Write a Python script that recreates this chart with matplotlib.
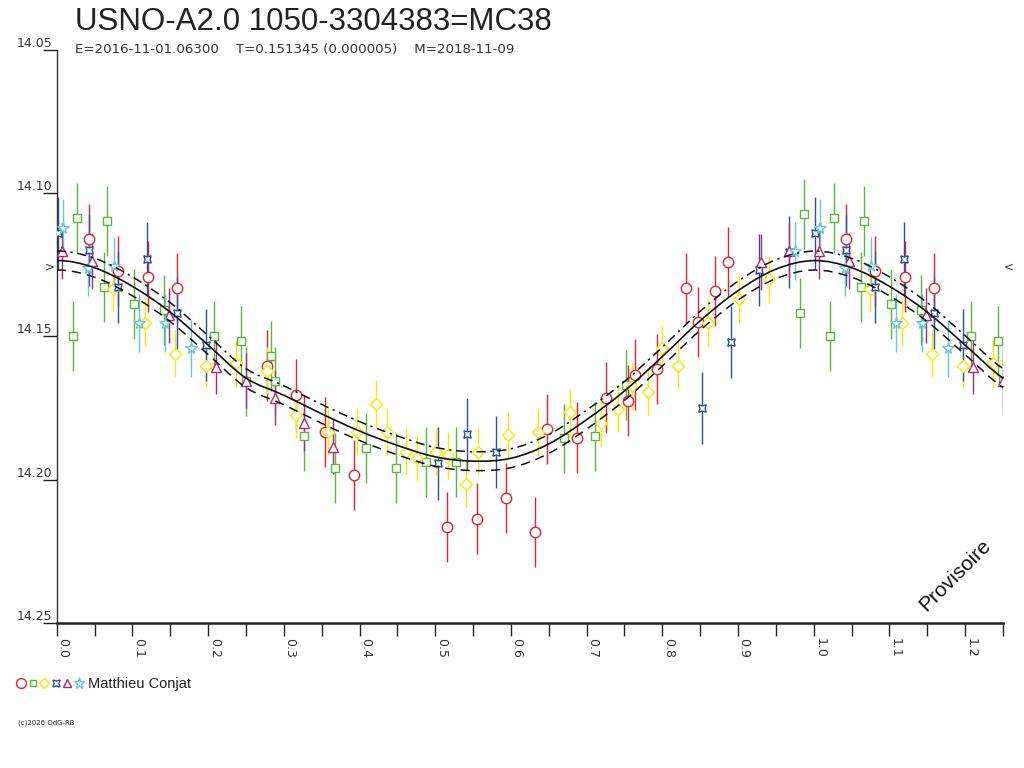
import numpy as np
import matplotlib
matplotlib.use("Agg")
import matplotlib.pyplot as plt
from matplotlib.path import Path
from matplotlib.patches import PathPatch
from matplotlib.transforms import ScaledTranslation

# phase / magnitude readings, one group per observer series
red_phase = [0.043, 0.0814, 0.120, 0.1585, 0.2774, 0.3157, 0.3544, 0.3927, 0.516, 0.5548,
             0.5935, 0.6319, 0.648, 0.687, 0.7256, 0.7543, 0.764, 0.7926, 0.8313, 0.8476,
             0.8696, 0.8864]
red_mag = [14.1160, 14.1271, 14.1291, 14.1330, 14.1602, 14.1703, 14.1833, 14.1984, 14.2165, 14.2136,
           14.2063, 14.2183, 14.1823, 14.1853, 14.1713, 14.1724, 14.1633, 14.1613, 14.1331, 14.1450,
           14.1341, 14.1240]
red_err = 0.0123

green_phase = [0.022, 0.0264, 0.0625, 0.066, 0.102, 0.1417, 0.208, 0.2435, 0.2497, 0.283,
               0.2884, 0.327, 0.3676, 0.4082, 0.4478, 0.4875, 0.5275, 0.6705, 0.711, 0.7517,
               0.9823, 0.9876]
green_mag = [14.1498, 14.1085, 14.1327, 14.1096, 14.1388, 14.1406, 14.1497, 14.1516, 14.1657, 14.1567,
             14.1657, 14.1849, 14.1958, 14.1888, 14.1958, 14.1938, 14.1938, 14.1856, 14.1849, 14.1668,
             14.1417, 14.1074]
green_err = 0.0122

yellow_phase = [0.0748, 0.1166, 0.1567, 0.197, 0.237, 0.2774, 0.3157, 0.358, 0.3963, 0.4214,
                0.4368, 0.461, 0.4764, 0.5007, 0.5165, 0.5407, 0.557, 0.5966, 0.6362, 0.678,
                0.7186, 0.741, 0.7596, 0.7807, 0.800, 0.821, 0.8608, 0.9013, 0.9413]
yellow_mag = [14.1333, 14.1452, 14.1560, 14.1602, 14.1594, 14.1620, 14.1774, 14.1833, 14.1833, 14.1734,
              14.1833, 14.1903, 14.1923, 14.1903, 14.1914, 14.2014, 14.1903, 14.1845, 14.1835, 14.1765,
              14.1802, 14.1753, 14.1674, 14.1693, 14.1541, 14.1602, 14.1452, 14.1370, 14.1300]
yellow_err = 0.0082

blue_phase = [0.002, 0.043, 0.0814, 0.1197, 0.1585, 0.197, 0.5033, 0.5416, 0.5803, 0.852,
              0.8904, 0.9282, 0.9678]
blue_mag = [14.1138, 14.1199, 14.1327, 14.1228, 14.1418, 14.1529, 14.1943, 14.1841, 14.1903, 14.1750,
            14.1520, 14.1269, 14.1205]
blue_err = 0.0126

purple_phase = [0.0075, 0.047, 0.1483, 0.211, 0.2497, 0.2884, 0.327, 0.3654, 0.9304, 0.9678]
purple_mag = [14.1201, 14.1237, 14.1426, 14.1605, 14.1654, 14.1713, 14.1802, 14.1884, 14.1240, 14.1200]
purple_err = 0.0097

cyan_phase = [0.0079, 0.0413, 0.076, 0.109, 0.1426, 0.1778, 0.9753]
cyan_mag = [14.1121, 14.1260, 14.1254, 14.1453, 14.1453, 14.1541, 14.1202]
cyan_err = 0.0100

# fitted light curve, phase step 0.05
model_phase = [0.00, 0.05, 0.10, 0.15, 0.20, 0.25, 0.30, 0.35, 0.40, 0.45, 0.50,
               0.55, 0.60, 0.65, 0.70, 0.75, 0.80, 0.85, 0.90, 0.95, 1.00]
model_mag = [14.1235, 14.1260, 14.1325, 14.1415, 14.1530, 14.1645, 14.1705, 14.1770, 14.1830, 14.1880, 14.1920,
             14.1935, 14.1925, 14.1875, 14.1790, 14.1690, 14.1570, 14.1445, 14.1340, 14.1265, 14.1235]
model_band = 0.0033
max_mag = 14.1257

title = "USNO-A2.0 1050-3304383=MC38"
subtitle = "E=2016-11-01.06300    T=0.151345 (0.000005)    M=2018-11-09"
observer = "Matthieu Conjat"

x_ticks = [0.0, 0.1, 0.2, 0.3, 0.4, 0.5, 0.6, 0.7, 0.8, 0.9, 1.0, 1.1, 1.2]
y_ticks = [14.05, 14.10, 14.15, 14.20, 14.25]

series = [
    (red_phase, red_mag, red_err, "#e8232d", "o", 7.5),
    (green_phase, green_mag, green_err, "#5cb53e", "s", 5.2),
    (yellow_phase, yellow_mag, yellow_err, "#fae800", "D", 5.8),
    (blue_phase, blue_mag, blue_err, "#2d4ea6", (4, 1, 45), 7.5),
    (purple_phase, purple_mag, purple_err, "#b02878", "^", 6.5),
    (cyan_phase, cyan_mag, cyan_err, "#6cc4d8", "*", 8.5),
]


def smooth_path(xs, ys):
    # Catmull-Rom through the read points, drawn as cubic Bezier segments
    pts = np.column_stack([xs, ys])
    verts = [pts[1]]
    codes = [Path.MOVETO]
    for i in range(1, len(pts) - 2):
        p0, p1, p2, p3 = pts[i - 1], pts[i], pts[i + 1], pts[i + 2]
        verts += [p1 + (p2 - p0) / 6, p2 - (p3 - p1) / 6, p2]
        codes += [Path.CURVE4] * 3
    return Path(np.array(verts), codes)


fig = plt.figure(figsize=(10.24, 7.68), dpi=100)
ax = fig.add_axes([0.0554, 0.1888, 0.9241, 0.7461])

for ph, mg, err, col, mk, ms in series:
    ph = np.array(ph)
    mg = np.array(mg)
    wrap = ph < 0.25
    x = np.concatenate([ph, ph[wrap] + 1.0])
    y = np.concatenate([mg, mg[wrap]])
    ax.errorbar(x, y, yerr=err, fmt="none", ecolor=col, elinewidth=1.0, capsize=0, zorder=2)
    ax.plot(x, y, ls="none", marker=mk, ms=ms, mfc="white", mec=col, mew=1.0, zorder=3)

# periodic curve over 0..1.25 with one neighbour on each side for the spline
mp = np.array(model_phase)
mm = np.array(model_mag)
mx = np.concatenate([[mp[-2] - 1.0], mp, mp[1:7] + 1.0])
my = np.concatenate([[mm[-2]], mm, mm[1:7]])
ax.add_patch(PathPatch(smooth_path(mx, my), fill=False, ec="#111111", lw=1.2, zorder=4))
ax.add_patch(PathPatch(smooth_path(mx, my - model_band), fill=False, ec="#111111", lw=1.1,
                       ls=(0, (6, 3, 1.5, 3)), zorder=4))
ax.add_patch(PathPatch(smooth_path(mx, my + model_band), fill=False, ec="#111111", lw=1.1,
                       ls=(0, (6, 4)), zorder=4))

ax.set_xlim(0, 1.25)
ax.set_ylim(14.25, 14.05)
ax.set_xticks(x_ticks)
ax.set_xticks(np.array(x_ticks) + 0.05, minor=True)
ax.set_xticklabels(["%.1f" % t for t in x_ticks], rotation=-90, fontsize=9, color="#333333",
                   family="DejaVu Sans")
ax.set_yticks(y_ticks)
ax.set_yticklabels(["%.2f" % t for t in y_ticks], fontsize=9, color="#333333", family="DejaVu Sans")
ax.tick_params(axis="x", which="both", direction="out", length=9, width=1, color="#222222", pad=2)
ax.tick_params(axis="y", direction="out", length=10, width=1, color="#222222", pad=-7)
for lab in ax.get_xticklabels():
    lab.set_va("top")
    lab.set_ha("center")
    lab.set_transform(lab.get_transform() + ScaledTranslation(6 / 100, 0, fig.dpi_scale_trans))
for lab in ax.get_yticklabels():
    lab.set_va("bottom")

for s in ["top", "right"]:
    ax.spines[s].set_visible(False)
ax.spines["left"].set_color("#333333")
ax.spines["left"].set_linewidth(1.0)
ax.spines["bottom"].set_color("#222222")
ax.spines["bottom"].set_linewidth(1.8)

# max brightness markers at both sides
ax.annotate(">", xy=(0, max_mag), xycoords=("axes fraction", "data"), xytext=(-1.5, 0),
            textcoords="offset points", ha="right", va="center", fontsize=8.5, color="#333333")
ax.annotate("<", xy=(1, max_mag), xycoords=("axes fraction", "data"), xytext=(0.5, 0),
            textcoords="offset points", ha="left", va="center", fontsize=8.5, color="#333333")

fig.text(75 / 1024, 1 - 30 / 768, title, fontsize=22.5, family="Liberation Sans",
         color="#222222", ha="left", va="baseline")
fig.text(75 / 1024, 1 - 53 / 768, subtitle, fontsize=9.6, family="DejaVu Sans",
         color="#333333", ha="left", va="baseline")

ax.text(0.949, 0.083, "Provisoire", transform=ax.transAxes, rotation=45, fontsize=15,
        family="Liberation Sans", color="#111111", ha="center", va="center")

# footer: observer legend and credit
foot = fig.add_axes([0, 0, 1, 1], facecolor="none")
foot.set_xlim(0, 1024)
foot.set_ylim(768, 0)
foot.axis("off")
for i, (ph, mg, err, col, mk, ms) in enumerate(series):
    foot.plot(21 + i * 11.5, 683, marker=mk, ms=ms * 0.95, mfc="white", mec=col, mew=1.0, ls="none")
fig.text(88 / 1024, 1 - 688 / 768, observer, fontsize=10.5, family="Liberation Sans",
         color="#222222", ha="left", va="baseline")
fig.text(18 / 1024, 1 - 725 / 768, "(c)2026 OdG-RB", fontsize=5, family="DejaVu Sans",
         color="#222222", ha="left", va="baseline")

fig.savefig("out.png", dpi=100)
